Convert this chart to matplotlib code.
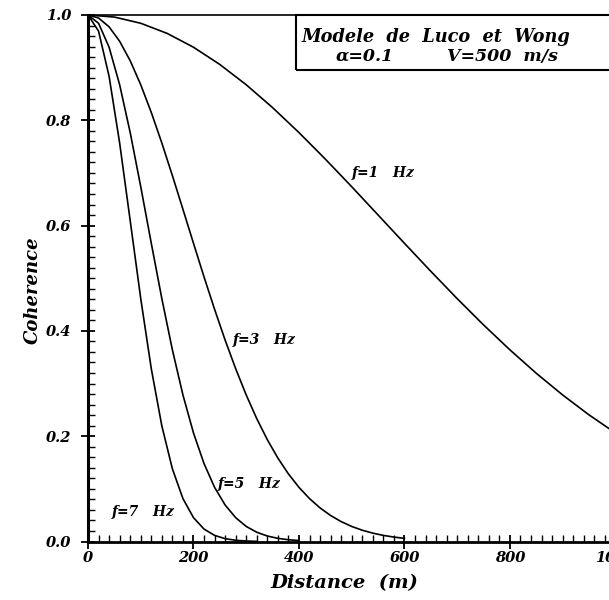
import matplotlib
matplotlib.use("Agg")
import matplotlib.pyplot as plt
from matplotlib.patches import Rectangle
from matplotlib.ticker import MultipleLocator

# Luco & Wong coherence curves, one list per frequency
dist_1 = [0, 50, 100, 150, 200, 250, 300, 350, 400, 450, 500,
          550, 600, 650, 700, 750, 800, 850, 900, 950, 1000]
coh_1 = [1.0, 0.9961, 0.9843, 0.9651, 0.9388, 0.9060, 0.8675, 0.8241, 0.7767, 0.7263, 0.6739,
         0.6202, 0.5664, 0.5132, 0.4613, 0.4114, 0.3640, 0.3195, 0.2783, 0.2405, 0.2062]

dist_3 = [0, 20, 40, 60, 80, 100, 120, 140, 160, 180, 200, 220, 240, 260, 280, 300,
          320, 340, 360, 380, 400, 420, 440, 460, 480, 500, 520, 540, 560, 580, 600]
coh_3 = [1.0, 0.9943, 0.9775, 0.9501, 0.9131, 0.8675, 0.8149, 0.7569, 0.6950, 0.6310, 0.5664,
         0.5026, 0.4410, 0.3826, 0.3282, 0.2783, 0.2333, 0.1934, 0.1585, 0.1284, 0.1029,
         0.0815, 0.0638, 0.0494, 0.0378, 0.0286, 0.0214, 0.0159, 0.0116, 0.0084, 0.0060]

dist_5 = [0, 20, 40, 60, 80, 100, 120, 140, 160, 180, 200,
          220, 240, 260, 280, 300, 320, 340, 360, 380, 400]
coh_5 = [1.0, 0.9843, 0.9388, 0.8675, 0.7767, 0.6739, 0.5664, 0.4613, 0.3640, 0.2783, 0.2062,
         0.1480, 0.1029, 0.0693, 0.0453, 0.0286, 0.0176, 0.0104, 0.0060, 0.0033, 0.0018]

dist_7 = [0, 20, 40, 60, 80, 100, 120, 140, 160, 180, 200, 220, 240, 260, 280, 300, 320]
coh_7 = [1.0, 0.9695, 0.8835, 0.7569, 0.6094, 0.4613, 0.3282, 0.2195, 0.1380, 0.0815,
         0.0453, 0.0236, 0.0116, 0.0054, 0.0023, 0.0009, 0.0003]

curve_labels = ["f=1   Hz", "f=3   Hz", "f=5   Hz", "f=7   Hz"]
label_x = [500, 275, 246, 45]
label_y = [0.699, 0.382, 0.109, 0.056]

font = dict(family="DejaVu Serif", style="italic", weight="bold")

fig = plt.figure(figsize=(6.09, 6.0), dpi=100)
ax = fig.add_axes([0.1445, 0.0975, 0.866, 0.8775])

for d, c in [(dist_1, coh_1), (dist_3, coh_3), (dist_5, coh_5), (dist_7, coh_7)]:
    ax.plot(d, c, color="black", lw=1.2)

for txt, x, y in zip(curve_labels, label_x, label_y):
    ax.text(x, y, txt, ha="left", va="center", fontsize=10, **font)

ax.set_xlim(0, 1000)
ax.set_ylim(0, 1.0)

ax.xaxis.set_major_locator(MultipleLocator(200))
ax.xaxis.set_minor_locator(MultipleLocator(20))
ax.yaxis.set_major_locator(MultipleLocator(0.2))
ax.yaxis.set_minor_locator(MultipleLocator(0.02))
ax.tick_params(which="major", direction="inout", length=10, width=1.3, pad=2)
ax.tick_params(which="minor", direction="in", length=5, width=1.0)
ax.tick_params(axis="y", which="major", pad=7)

ax.set_xticks([0, 200, 400, 600, 800, 1000])
ax.set_xticklabels(["0", "200", "400", "600", "800", "1000"])
ax.set_yticks([0.0, 0.2, 0.4, 0.6, 0.8, 1.0])
ax.set_yticklabels(["0.0", "0.2", "0.4", "0.6", "0.8", "1.0"])
for lab in ax.get_xticklabels() + ax.get_yticklabels():
    lab.set_fontfamily(font["family"])
    lab.set_fontstyle("italic")
    lab.set_fontweight("bold")
    lab.set_fontsize(10.5)

ax.spines["left"].set_linewidth(2.2)
ax.spines["bottom"].set_linewidth(2.0)
ax.spines["top"].set_linewidth(1.2)
ax.spines["right"].set_linewidth(1.2)

ax.set_xlabel("Distance  (m)", fontsize=14, **font)
ax.set_ylabel("Coherence", fontsize=13, **font)
ax.xaxis.set_label_coords(0.487, -0.062)
ax.yaxis.set_label_coords(-0.088, 0.477)

# model description box in the top right corner
ax.add_patch(Rectangle((394, 0.895), 700, 0.105, fill=False, edgecolor="black",
                       lw=1.5, clip_on=False))
ax.text(660, 0.959, "Modele  de  Luco  et  Wong", ha="center", va="center",
        fontsize=12.8, **font)
ax.text(525, 0.921, "\u03b1=0.1", ha="center", va="center", fontsize=12.5, **font)
ax.text(785, 0.921, "V=500  m/s", ha="center", va="center", fontsize=12.5, **font)

fig.savefig("out.png", dpi=100, facecolor="white")
